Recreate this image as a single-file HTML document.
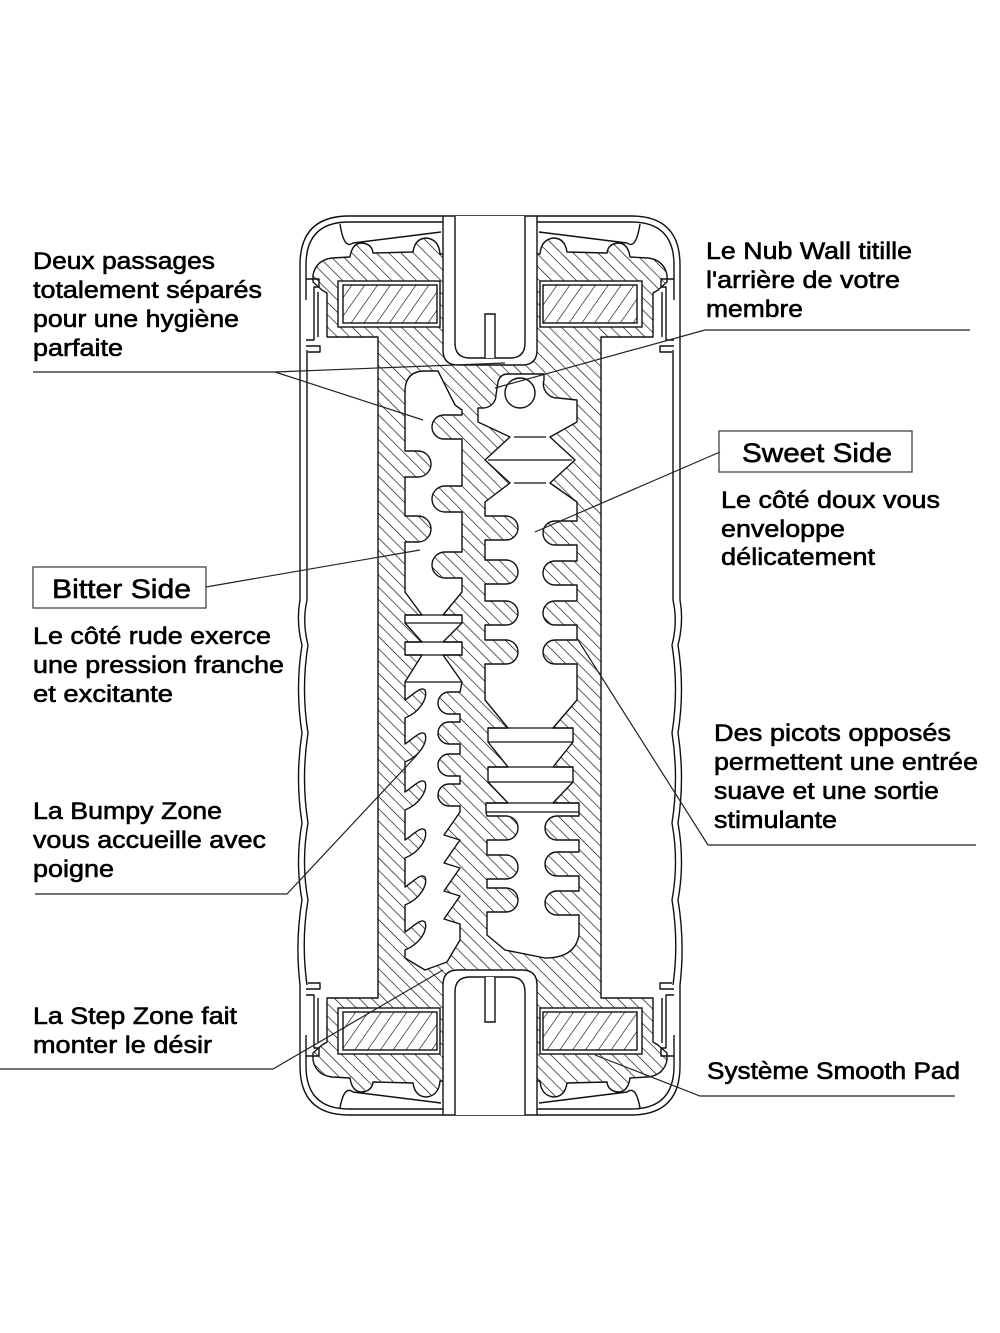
<!DOCTYPE html>
<html><head><meta charset="utf-8"><style>
html,body{margin:0;padding:0;background:#fff;}
svg{display:block;}
text{font-family:"Liberation Sans",Arial,sans-serif;font-size:24px;fill:#000;stroke:#000;stroke-width:0.6;}
</style></head><body>
<svg width="1000" height="1333" viewBox="0 0 1000 1333" xmlns="http://www.w3.org/2000/svg">
<defs>
<pattern id="h1" patternUnits="userSpaceOnUse" width="8.7" height="8.7" patternTransform="rotate(-45)">
<line x1="0" y1="-1" x2="0" y2="10" stroke="#000" stroke-width="1.25"/>
</pattern>
<pattern id="h2" patternUnits="userSpaceOnUse" width="10.5" height="10.5" patternTransform="rotate(35)">
<line x1="0" y1="-1" x2="0" y2="12" stroke="#000" stroke-width="1.2"/>
</pattern>
</defs>
<rect width="1000" height="1333" fill="#fff"/>

<g fill="none" stroke="#111" stroke-width="1.4" stroke-linejoin="round">
<!-- outer shell -->
<path d="M300,265 Q300,216 349,216 L631,216 Q680,216 680,265 L680,600 Q684,622 678,645 Q685,689 678,733 Q685,778 678,823 Q685,862 678,900 Q685,942 680,985 L680,1066 Q680,1115 631,1115 L349,1115 Q300,1115 300,1066 L300,985 Q295,942 302,900 Q295,862 302,823 Q295,778 302,733 Q295,689 302,645 Q296,622 300,600 Z"/>
<!-- inner shell lines -->
<path d="M306,300 L306,265 Q306,222 349,222 L443,222"/>
<path d="M674,300 L674,265 Q674,222 631,222 L537,222"/>
<path d="M307,350 L307,600 Q302,622 308,645 Q301,689 308,733 Q301,778 308,823 Q301,862 308,900 Q301,942 307,985"/>
<path d="M673,350 L673,600 Q678,622 672,645 Q679,689 672,733 Q679,778 672,823 Q679,862 672,900 Q679,942 673,985"/>
<path d="M306,1035 L306,1066 Q306,1109 349,1109 L443,1109"/>
<path d="M674,1035 L674,1066 Q674,1109 631,1109 L537,1109"/>
<!-- clips -->
<path d="M306,279 H319 V287 H314 V340 H306"/>
<path d="M306,346 H320 V352 H308"/>
<path d="M318,292 V337"/>
<path d="M306,1056 H319 V1048 H314 V995 H306"/>
<path d="M306,989 H320 V983 H308"/>
<path d="M318,1043 V998"/>
<path d="M674,279 H661 V287 H666 V340 H674"/>
<path d="M674,346 H660 V352 H672"/>
<path d="M662,292 V337"/>
<path d="M674,1056 H661 V1048 H666 V995 H674"/>
<path d="M674,989 H660 V983 H672"/>
<path d="M662,1043 V998"/>
<!-- pad covers -->
<path d="M340,224 Q344,250 353,243 L441,232"/>
<path d="M640,224 Q636,250 627,243 L539,232"/>
<path d="M340,1108 Q344,1085 353,1092 L441,1103"/>
<path d="M640,1108 Q636,1085 627,1092 L539,1103"/>
</g>

<!-- hatched body -->
<path fill="url(#h1)" stroke="#111" stroke-width="1.4" stroke-linejoin="round" d="M313,275 Q316,260 332,258 L350,257 Q352,243 362,243 Q372,244 373,253 L413,252 Q415,238 427,238 Q439,240 440,254 L443,254 L443,350 Q443,365 458,365 L522,365 Q537,365 537,350 L537,254 L540,254 Q541,240 553,238 Q565,238 567,252 L607,253 Q608,244 618,243 Q628,243 630,257 L648,258 Q664,260 667,275 L667,282 L658,290 L653,293 L653,337 L601,337 L601,998 L653,998 L653,1042 L658,1045 L667,1053 L667,1060 Q664,1075 648,1077 L630,1078 Q628,1092 618,1092 Q608,1091 607,1082 L567,1083 Q565,1097 553,1097 Q541,1095 540,1081 L537,1081 L537,985 Q537,970 522,970 L458,970 Q443,970 443,985 L443,1081 L440,1081 Q439,1095 427,1097 Q415,1097 413,1083 L373,1082 Q372,1091 362,1092 Q352,1092 350,1078 L332,1077 Q316,1075 313,1060 L313,1053 L322,1045 L327,1042 L327,998 L378,998 L378,337 L327,337 L327,293 L322,290 L313,282 Z"/>

<g stroke="#111" stroke-width="1.4" fill="none">
<!-- top channel -->
<path d="M443,216 V254"/><path d="M537,216 V254"/>
<path fill="#fff" d="M455,216 V343 Q455,358 470,358 H510 Q525,358 525,343 V216"/>
<path fill="#fff" d="M485,358 V314 H495 V358"/>
<!-- bottom channel -->
<path d="M443,1081 V1115"/><path d="M537,1081 V1115"/>
<path fill="#fff" d="M455,1115 V992 Q455,977 470,977 H510 Q525,977 525,992 V1115"/>
<path fill="#fff" d="M485,977 V1022 H495 V977"/>
</g>

<!-- magnets -->
<g stroke="#111" stroke-width="1.4">
<rect x="338" y="281" width="102" height="46" fill="#fff"/>
<rect x="343" y="285" width="94" height="38" fill="url(#h2)"/>
<rect x="540" y="281" width="102" height="46" fill="#fff"/>
<rect x="543" y="285" width="94" height="38" fill="url(#h2)"/>
<rect x="338" y="1008" width="102" height="46" fill="#fff"/>
<rect x="343" y="1012" width="94" height="38" fill="url(#h2)"/>
<rect x="540" y="1008" width="102" height="46" fill="#fff"/>
<rect x="543" y="1012" width="94" height="38" fill="url(#h2)"/>
</g>

<!-- channels -->
<g fill="#fff" stroke="#111" stroke-width="1.4" stroke-linejoin="round">
<path d="M405,410 L405,392 Q405,371 425,371 L438,371 L455,405 L462,410
L462,415 H444 A12 12 0 0 0 444,439 H462
L462,486 H445 A13 13 0 0 0 445,512 H462
L462,552 H445 A13 13 0 0 0 445,578 H462
L462,592 L443,615 L462,615 L462,623 L443,642 L462,642 L462,655 L443,655 L462,682
L460,692 H449 A11 11 0 0 0 449,714 H460
L460,722 H449 A11 11 0 0 0 449,744 H460
L460,754 H449 A11 11 0 0 0 449,776 H460
L460,784 H449 A11 11 0 0 0 449,806 H460
L460,812 L444,835 L460,840 L444,863 L460,868 L444,891 L460,896 L444,919 L460,924 L460,940
L447,962 L425,970 L405,958
L405,950 C420,944 428,930 425,922 C421,918 414,926 405,932
L405,905 C420,899 428,885 425,877 C421,873 414,881 405,887
L405,858 C420,852 428,838 425,830 C421,826 414,834 405,840
L405,810 C420,804 428,790 425,782 C421,778 414,786 405,792
L405,762 C420,756 428,742 425,734 C421,730 414,738 405,744
L405,718 C420,712 428,698 425,690 C421,686 414,694 405,700
L405,682 L422,655 L405,655 L405,642 L422,642 L405,623 L405,615 L422,615 L405,592
L405,542 H418 A13 13 0 0 0 418,516 H405
L405,477 H418 A13 13 0 0 0 418,451 H405 Z"/>

<path d="M478,422 V408 H483 A13 13 0 0 0 496,395 L498,382 Q500,374 508,374 L544,374 L544,380 A14 14 0 0 0 558,398 L577,400 L577,422
L550,437 L575,460 L550,483 L577,502
L577,521 H555 A12 12 0 0 0 555,545 H577
L577,561 H555 A12 12 0 0 0 555,585 H577
L577,601 H555 A12 12 0 0 0 555,625 H577
L577,640 H555 A12 12 0 0 0 555,664 H577
L577,700 L553,728 L573,728 L573,742 L553,767 L573,767 L573,782 L553,803 L579,803 L579,812
L579,816 H557 A12 12 0 0 0 557,840 H579
L579,852 H557 A12 12 0 0 0 557,876 H579
L579,891 H557 A12 12 0 0 0 557,915 H579
L579,935 Q575,958 545,958 L505,950 L487,935
L487,912 H506 A12 12 0 0 0 506,888 H487
L487,879 H506 A12 12 0 0 0 506,855 H487
L487,840 H506 A12 12 0 0 0 506,816 H487
L486,812 L486,803 L508,803 L488,782 L488,767 L508,767 L488,742 L488,728 L508,728 L485,700
L485,664 H506 A12 12 0 0 0 506,640 H485
L485,625 H506 A12 12 0 0 0 506,601 H485
L485,584 H506 A12 12 0 0 0 506,560 H485
L485,540 H506 A12 12 0 0 0 506,516 H485
L485,502 L510,483 L485,460 L510,437 L478,422 Z"/>
<circle cx="520" cy="393" r="15"/>
</g>

<!-- inner plate lines -->
<g stroke="#111" stroke-width="1.3" fill="none">
<path d="M405,615 H462 M405,623 H462 M405,642 H462 M405,655 H462 M405,682 H462"/>
<path d="M514,437 H546 M488,460 H572 M514,483 H546"/>
<path d="M488,728 H573 M488,742 H573 M488,767 H573 M488,782 H573 M486,803 H579 M486,812 H579"/>
</g>

<!-- leader lines -->
<g stroke="#222" stroke-width="1.2" fill="none">
<path d="M33,372 H275 L505,363 M275,372 L423,420"/>
<path d="M970,330 H705 L495,388"/>
<path d="M720,452 L535,532"/>
<path d="M206,587 L420,550"/>
<path d="M35,894 H287 L417,755"/>
<path d="M0,1069 H273 L443,970"/>
<path d="M976,845 H708 L578,640"/>
<path d="M955,1096 H700 L595,1055"/>
</g>

<!-- boxes -->
<rect x="33" y="567" width="173" height="41" fill="none" stroke="#444" stroke-width="1.3"/>
<rect x="719" y="431" width="193" height="41" fill="none" stroke="#444" stroke-width="1.3"/>

<!-- text -->
<text x="33" y="269" textLength="182" lengthAdjust="spacingAndGlyphs">Deux passages</text>
<text x="33" y="298" textLength="229" lengthAdjust="spacingAndGlyphs">totalement séparés</text>
<text x="33" y="327" textLength="206" lengthAdjust="spacingAndGlyphs">pour une hygiène</text>
<text x="33" y="356" textLength="90" lengthAdjust="spacingAndGlyphs">parfaite</text>
<text x="52" y="598" textLength="139" lengthAdjust="spacingAndGlyphs" style="font-size:27px">Bitter Side</text>
<text x="33" y="644" textLength="238" lengthAdjust="spacingAndGlyphs">Le côté rude exerce</text>
<text x="33" y="673" textLength="251" lengthAdjust="spacingAndGlyphs">une pression franche</text>
<text x="33" y="702" textLength="140" lengthAdjust="spacingAndGlyphs">et excitante</text>
<text x="33" y="819" textLength="189" lengthAdjust="spacingAndGlyphs">La Bumpy Zone</text>
<text x="33" y="848" textLength="233" lengthAdjust="spacingAndGlyphs">vous accueille avec</text>
<text x="33" y="877" textLength="81" lengthAdjust="spacingAndGlyphs">poigne</text>
<text x="33" y="1024" textLength="204" lengthAdjust="spacingAndGlyphs">La Step Zone fait</text>
<text x="33" y="1053" textLength="179" lengthAdjust="spacingAndGlyphs">monter le désir</text>
<text x="706" y="259" textLength="206" lengthAdjust="spacingAndGlyphs">Le Nub Wall titille</text>
<text x="706" y="288" textLength="194" lengthAdjust="spacingAndGlyphs">l'arrière de votre</text>
<text x="706" y="317" textLength="97" lengthAdjust="spacingAndGlyphs">membre</text>
<text x="742" y="462" textLength="150" lengthAdjust="spacingAndGlyphs" style="font-size:27px">Sweet Side</text>
<text x="721" y="508" textLength="219" lengthAdjust="spacingAndGlyphs">Le côté doux vous</text>
<text x="721" y="537" textLength="124" lengthAdjust="spacingAndGlyphs">enveloppe</text>
<text x="721" y="565" textLength="154" lengthAdjust="spacingAndGlyphs">délicatement</text>
<text x="714" y="741" textLength="237" lengthAdjust="spacingAndGlyphs">Des picots opposés</text>
<text x="714" y="770" textLength="264" lengthAdjust="spacingAndGlyphs">permettent une entrée</text>
<text x="714" y="799" textLength="225" lengthAdjust="spacingAndGlyphs">suave et une sortie</text>
<text x="714" y="828" textLength="123" lengthAdjust="spacingAndGlyphs">stimulante</text>
<text x="707" y="1079" textLength="253" lengthAdjust="spacingAndGlyphs">Système Smooth Pad</text>
</svg>
</body></html>
